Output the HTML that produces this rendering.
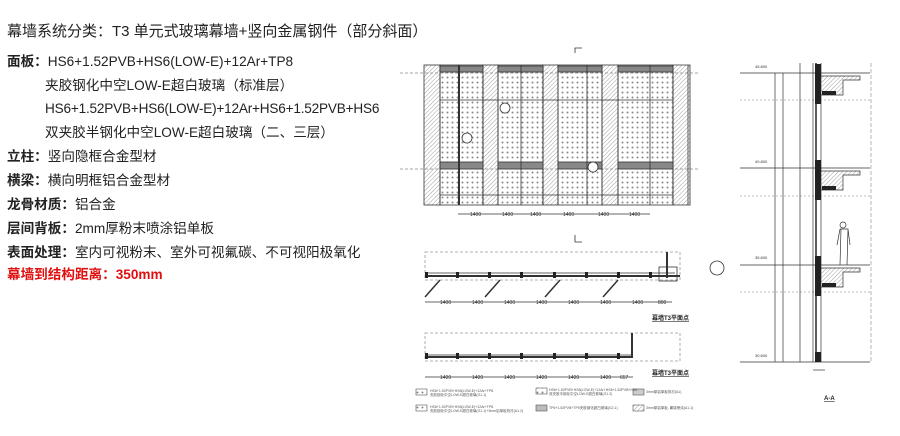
<!DOCTYPE html>
<html><head><meta charset="utf-8"><style>
body{margin:0;width:900px;height:436px;background:#fff;overflow:hidden;position:relative;font-family:"Liberation Sans","Noto Sans CJK SC",sans-serif;color:#222}
.t{position:absolute;left:7px;font-size:13.6px;white-space:nowrap;line-height:18px}
.b{font-weight:bold}
svg{position:absolute;left:0;top:0}
</style></head><body>
<div class="t" style="top:23px;font-size:15px">幕墙系统分类：T3 单元式玻璃幕墙+竖向金属钢件（部分斜面）</div>
<div class="t" style="top:53px"><span class="b">面板：</span>HS6+1.52PVB+HS6(LOW-E)+12Ar+TP8</div>
<div class="t" style="top:77px;left:45px">夹胶钢化中空LOW-E超白玻璃（标准层）</div>
<div class="t" style="top:100px;left:45px;letter-spacing:-0.2px">HS6+1.52PVB+HS6(LOW-E)+12Ar+HS6+1.52PVB+HS6</div>
<div class="t" style="top:124px;left:45px">双夹胶半钢化中空LOW-E超白玻璃（二、三层）</div>
<div class="t" style="top:148px"><span class="b">立柱：</span>竖向隐框合金型材</div>
<div class="t" style="top:172px"><span class="b">横梁：</span>横向明框铝合金型材</div>
<div class="t" style="top:196px"><span class="b">龙骨材质：</span>铝合金</div>
<div class="t" style="top:220px"><span class="b">层间背板：</span>2mm厚粉末喷涂铝单板</div>
<div class="t" style="top:244px"><span class="b">表面处理：</span>室内可视粉末、室外可视氟碳、不可视阳极氧化</div>
<div class="t b" style="top:266px;color:#e01010">幕墙到结构距离：350mm</div>
<svg width="900" height="436" viewBox="0 0 900 436">
<defs>
<pattern id="h" width="3" height="3" patternUnits="userSpaceOnUse" patternTransform="rotate(45)"><line x1="0" y1="0" x2="0" y2="3" stroke="#888" stroke-width="0.8"/></pattern>
<pattern id="d" width="5" height="5" patternUnits="userSpaceOnUse"><circle cx="2.5" cy="2.5" r="1" fill="#888"/></pattern>
</defs>
<g stroke="#333" fill="none" stroke-width="0.8">
<line x1="400" y1="73" x2="700" y2="73" stroke="#888" stroke-dasharray="3,2"/>
<line x1="400" y1="169" x2="700" y2="169" stroke="#888" stroke-dasharray="3,2"/>
<rect x="424" y="65" width="16" height="140" fill="url(#h)"/>
<rect x="483" y="65" width="15" height="140" fill="url(#h)"/>
<rect x="543" y="65" width="15" height="140" fill="url(#h)"/>
<rect x="602" y="65" width="16" height="140" fill="url(#h)"/>
<path d="M673 65 L690 65 L690 205 L673 205 Z" fill="url(#h)"/>
<rect x="440" y="65" width="43" height="140" fill="url(#d)"/>
<rect x="498" y="65" width="45" height="140" fill="url(#d)"/>
<rect x="558" y="65" width="44" height="140" fill="url(#d)"/>
<rect x="618" y="65" width="55" height="140" fill="url(#d)"/>
<g fill="#888"><rect x="440" y="66" width="43" height="6"/><rect x="498" y="66" width="45" height="6"/><rect x="558" y="66" width="44" height="6"/><rect x="618" y="66" width="55" height="6"/>
<rect x="440" y="162" width="43" height="7"/><rect x="498" y="162" width="45" height="7"/><rect x="558" y="162" width="44" height="7"/><rect x="618" y="162" width="55" height="7"/></g>
<line x1="440" y1="100" x2="673" y2="100"/><line x1="440" y1="195" x2="673" y2="195"/>
<line x1="459" y1="65" x2="459" y2="205" stroke-width="2"/><line x1="521" y1="65" x2="521" y2="205"/><line x1="587" y1="65" x2="587" y2="205"/><line x1="650" y1="65" x2="650" y2="205"/>
<circle cx="467" cy="138" r="5" fill="#fff"/><circle cx="505" cy="108" r="5" fill="#fff"/><circle cx="593" cy="167" r="5" fill="#fff"/>
<line x1="458" y1="214" x2="650" y2="214"/>
<polyline points="575,53 575,48 582,48"/><polyline points="575,235 575,242 582,242"/>
<line x1="688" y1="65" x2="688" y2="205"/>
</g>
<g font-size="5" fill="#333"><text x="470" y="216">1400</text><text x="502" y="216">1400</text><text x="530" y="216">1400</text><text x="563" y="216">1400</text><text x="598" y="216">1400</text><text x="629" y="216">1400</text></g>
<g stroke="#333" fill="none" stroke-width="0.8">
<rect x="425" y="252" width="255" height="28" stroke="#999" stroke-dasharray="3,2"/>
<line x1="425" y1="276" x2="680" y2="276" stroke-width="2"/>
<line x1="425" y1="273" x2="675" y2="273"/>
<line x1="667" y1="252" x2="667" y2="278" stroke-width="2"/>
<rect x="659" y="267" width="18" height="14"/>
<path d="M425 297 L440 280 M485 297 L500 280 M545 297 L560 280 M603 297 L618 280" stroke-width="1.5"/>
<line x1="425" y1="302" x2="672" y2="302"/>
<circle cx="717" cy="268" r="7"/>
<rect x="425" y="333" width="255" height="28" stroke="#999" stroke-dasharray="3,2"/>
<line x1="425" y1="357" x2="632" y2="357" stroke-width="2"/>
<line x1="425" y1="355" x2="632" y2="355"/>
<line x1="632" y1="333" x2="632" y2="358" stroke-width="2"/>
<line x1="425" y1="377" x2="633" y2="377"/>
</g>
<g fill="#222"><rect x="425" y="272" width="3" height="6"/><rect x="456" y="272" width="3" height="6"/><rect x="488" y="272" width="3" height="6"/><rect x="520" y="272" width="3" height="6"/><rect x="553" y="272" width="3" height="6"/><rect x="585" y="272" width="3" height="6"/><rect x="617" y="272" width="3" height="6"/><rect x="649" y="272" width="3" height="6"/>
<rect x="425" y="353" width="3" height="6"/><rect x="456" y="353" width="3" height="6"/><rect x="488" y="353" width="3" height="6"/><rect x="520" y="353" width="3" height="6"/><rect x="553" y="353" width="3" height="6"/><rect x="585" y="353" width="3" height="6"/><rect x="617" y="353" width="3" height="6"/></g>
<g font-size="5" fill="#333"><text x="440" y="304">1400</text><text x="472" y="304">1400</text><text x="504" y="304">1400</text><text x="536" y="304">1400</text><text x="568" y="304">1400</text><text x="600" y="304">1400</text><text x="632" y="304">1400</text><text x="658" y="304">800</text>
<text x="440" y="379">1400</text><text x="472" y="379">1400</text><text x="504" y="379">1400</text><text x="536" y="379">1400</text><text x="568" y="379">1400</text><text x="600" y="379">1400</text><text x="620" y="379">657</text></g>
<g font-size="6" font-weight="bold" fill="#222"><text x="652" y="320" text-decoration="underline">幕墙T3平面点</text><text x="652" y="375" text-decoration="underline">幕墙T3平面点</text></g>
<g stroke="#555" stroke-width="0.6">
<rect x="416" y="389" width="11" height="6" fill="url(#d)"/><rect x="416" y="405" width="11" height="6" fill="url(#d)"/>
<rect x="536" y="388" width="11" height="6" fill="url(#d)"/><rect x="536" y="405" width="11" height="6" fill="#bbb"/>
<rect x="633" y="389" width="11" height="6" fill="#ccc"/><rect x="633" y="405" width="11" height="6" fill="url(#h)"/>
</g>
<g font-size="3.5" fill="#555"><text x="430" y="392">HS6+1.52PVB+HS6(LOW-E)+12Ar+TP8</text><text x="430" y="396">夹胶钢化中空LOW-E超白玻璃(G1.1)</text>
<text x="430" y="408">HS6+1.52PVB+HS6(LOW-E)+12Ar+TP8</text><text x="430" y="412">夹胶钢化中空LOW-E超白玻璃(G1.1)+3mm铝单板背衬(A1.2)</text>
<text x="549" y="391">HS6+1.52PVB+HS6(LOW-E)+12Ar+HS6+1.52PVB+HS6</text><text x="549" y="395">双夹胶半钢化中空LOW-E超白玻璃(G1.2)</text>
<text x="549" y="409">TP6+1.52PVB+TP6夹胶钢化超白玻璃(G2.1)</text>
<text x="646" y="393">3mm厚铝单板背衬(A1)</text><text x="646" y="409">3mm厚铝单板, 氟碳喷涂(A1.1)</text></g>
<g stroke="#333" fill="none" stroke-width="0.7">
<line x1="740" y1="73" x2="870" y2="73"/><line x1="740" y1="168" x2="870" y2="168"/><line x1="740" y1="265" x2="870" y2="265"/><line x1="740" y1="362" x2="870" y2="362"/>
<line x1="740" y1="100" x2="870" y2="100" stroke="#aaa" stroke-dasharray="2,2"/><line x1="740" y1="196" x2="870" y2="196" stroke="#aaa" stroke-dasharray="2,2"/><line x1="740" y1="292" x2="870" y2="292" stroke="#aaa" stroke-dasharray="2,2"/>
<line x1="775" y1="73" x2="775" y2="362"/><line x1="783" y1="73" x2="783" y2="362"/><line x1="800" y1="63" x2="800" y2="362"/><line x1="871" y1="63" x2="871" y2="362" stroke="#999" stroke-dasharray="4,2"/>
<line x1="813" y1="63" x2="813" y2="362"/><line x1="816" y1="63" x2="816" y2="362" stroke-width="1.6"/>
<line x1="821" y1="63" x2="821" y2="362"/>
<path d="M820 76 H860 V80 H843 V95 H820 Z" fill="url(#h)"/>
<path d="M820 171 H860 V175 H843 V190 H820 Z" fill="url(#h)"/>
<path d="M820 268 H860 V272 H843 V287 H820 Z" fill="url(#h)"/>
<path d="M840 225 a3 3 0 1 1 6 0 a3 3 0 1 1 -6 0 M840 229 L837 245 M848 229 L850 245 M840 229 H848 L847 265 M841 229 L840 265"/>
<line x1="813" y1="370" x2="825" y2="370"/>
</g>
<g fill="#222"><rect x="815" y="64" width="6" height="40"/><rect x="815" y="160" width="6" height="40"/><rect x="815" y="256" width="6" height="40"/><rect x="815" y="352" width="6" height="10"/>
<rect x="822" y="91" width="14" height="4"/><rect x="822" y="186" width="14" height="4"/><rect x="822" y="283" width="14" height="4"/></g>
<g font-size="4" fill="#333"><text x="755" y="68">45.800</text><text x="755" y="163">40.800</text><text x="755" y="259">35.600</text><text x="755" y="357">30.600</text></g>
<text x="824" y="400" font-size="6" font-weight="bold" fill="#222" text-decoration="underline">A-A</text>
</svg>
</body></html>
